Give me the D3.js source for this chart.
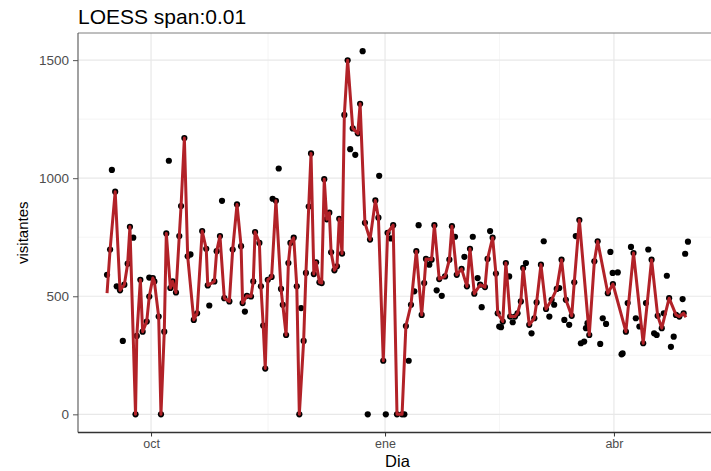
<!DOCTYPE html>
<html>
<head>
<meta charset="utf-8">
<script src="https://cdn.jsdelivr.net/npm/d3@7"></script>
<style>
  html, body { margin: 0; padding: 0; background: #fff; }
  svg { display: block; font-family: "Liberation Sans", Arial, sans-serif; }
</style>
</head>
<body>
<div id="grafico"></div>
<script>
// Día 0 = 13 sep 2018; los días se cuentan desde ahí
const inicio = Date.UTC(2018, 8, 13);

// Curva LOESS (span 0.01), vértices
const diaLoess = [0.7, 1.9, 3.9, 5.8, 7.5, 8.8, 9.7, 11.9, 12.4, 13.8, 14.7, 16.3, 17.3, 18.7, 19.3, 21.0, 21.9, 23.2, 24.0, 25.6,
  26.5, 27.8, 29.1, 29.8, 31.1, 32.4, 34.8, 36.1, 38.1, 39.7, 40.3, 42.9, 43.8, 45.1, 46.8, 48.8, 50.1, 51.8, 53.4, 54.0,
  55.7, 57.3, 58.2, 58.9, 60.6, 61.2, 62.1, 62.9, 63.9, 65.4, 67.1, 69.1, 69.8, 71.1, 72.0, 72.8, 74.1, 75.3, 76.3, 78.0,
  78.9, 80.0, 80.9, 82.0, 82.9, 84.2, 85.1, 86.1, 87.1, 88.1, 88.8, 90.1, 91.1, 92.0, 93.1, 94.0, 95.3, 97.3, 99.3, 100.2,
  102.1, 104.1, 106.2, 107.4, 109.3, 111.0, 113.2, 114.7, 116.7, 118.2, 120.2, 122.3, 124.4, 125.4, 126.1, 128.3, 129.4, 131.3, 133.6, 135.3,
  136.3, 138.2, 140.1, 142.2, 143.4, 145.1, 147.4, 149.3, 150.3, 152.3, 153.6, 154.3, 156.3, 157.5, 159.2, 161.1, 162.1, 163.4, 164.3, 166.7,
  168.7, 169.6, 171.3, 173.3, 175.5, 177.5, 179.4, 181.1, 183.4, 184.4, 186.4, 190.3, 192.3, 193.6, 197.6, 199.6, 204.7, 207.7, 211.5, 214.8,
  217.2, 218.8, 221.7, 224.4, 225.7, 227.4, 228.3];
const loess = [513, 698, 943, 525, 549, 638, 794, 0, 332, 570, 350, 393, 499, 577, 563, 414, 0, 350, 766, 535,
  563, 516, 755, 882, 1170, 669, 400, 428, 776, 701, 546, 563, 691, 755, 492, 478, 698, 889, 712, 471,
  502, 499, 563, 772, 726, 542, 376, 194, 570, 582, 904, 531, 464, 336, 641, 726, 748, 542, 0, 311,
  599, 880, 1105, 594, 644, 559, 556, 996, 826, 854, 686, 610, 627, 828, 681, 1268, 1499, 1211, 1190, 1315,
  811, 740, 906, 833, 227, 769, 801, 0, 0, 374, 464, 691, 421, 556, 658, 655, 801, 573, 584, 655,
  797, 591, 616, 542, 701, 511, 549, 539, 658, 748, 596, 428, 393, 641, 414, 414, 428, 478, 620, 379,
  407, 474, 634, 446, 485, 531, 655, 485, 417, 559, 823, 336, 648, 733, 513, 552, 350, 683, 301, 655,
  417, 365, 492, 421, 414, 428, 411];

// Visitantes por día (puntos)
const diaPuntos = [1.9, 3.9, 5.8, 7.5, 8.8, 9.7, 11.9, 12.4, 13.8, 14.7, 16.3, 17.3, 18.7, 19.3, 21.0, 21.9, 23.2, 24.0, 25.6,
  26.5, 27.8, 29.1, 29.8, 31.1, 32.4, 34.8, 36.1, 38.1, 39.7, 40.3, 42.9, 43.8, 45.1, 46.8, 48.8, 50.1, 51.8, 53.4, 54.0,
  55.7, 57.3, 58.2, 58.9, 60.6, 61.2, 62.1, 62.9, 63.9, 65.4, 67.1, 69.1, 69.8, 71.1, 72.0, 72.8, 74.1, 75.3, 76.3, 78.0,
  78.9, 80.0, 80.9, 82.0, 82.9, 84.2, 85.1, 86.1, 87.1, 88.1, 88.8, 90.1, 91.1, 92.0, 93.1, 94.0, 95.3, 97.3, 99.3, 100.2,
  102.1, 104.1, 106.2, 107.4, 109.3, 111.0, 113.2, 114.7, 116.7, 118.2, 120.2, 122.3, 124.4, 125.4, 126.1, 128.3, 129.4, 131.3, 133.6, 135.3,
  136.3, 138.2, 140.1, 142.2, 143.4, 145.1, 147.4, 149.3, 150.3, 152.3, 153.6, 154.3, 156.3, 157.5, 159.2, 161.1, 162.1, 163.4, 164.3, 166.7,
  168.7, 169.6, 171.3, 173.3, 175.5, 177.5, 179.4, 181.1, 183.4, 184.4, 186.4, 190.3, 192.3, 193.6, 197.6, 199.6, 204.7, 207.7, 211.5, 214.8,
  217.2, 218.8, 221.7, 224.4, 225.7, 227.4,
  0.7, 2.6, 4.5, 6.9, 11.0, 17.3, 25.0, 33.5, 40.9, 45.9, 54.9, 65.8, 68.2, 77.0, 96.3, 98.3, 101.2, 103.2, 107.7, 110.3,
  112.3, 117.6, 119.3, 121.5, 123.2, 127.4, 130.3, 132.3, 137.5, 141.2, 144.5, 146.4, 148.0, 151.3, 154.9, 155.6, 158.8, 160.2, 165.4, 167.6,
  172.4, 174.6, 176.5, 178.5, 180.5, 182.4, 185.0, 187.0, 188.3, 189.0, 189.6, 194.6, 195.6, 196.9, 198.6, 199.5, 201.5, 203.0, 203.4, 205.4,
  206.7, 208.6, 210.0, 212.6, 213.5, 215.8, 216.8, 219.6, 220.8, 222.4, 223.5, 227.0, 228.0, 229.1];
const visitantes = [698, 943, 525, 549, 638, 794, 0, 332, 570, 350, 393, 499, 577, 563, 414, 0, 350, 766, 535,
  563, 516, 755, 882, 1170, 669, 400, 428, 776, 701, 546, 563, 691, 755, 492, 478, 698, 889, 712, 471,
  502, 499, 563, 772, 726, 542, 376, 194, 570, 582, 904, 531, 464, 336, 641, 726, 748, 542, 0, 311,
  599, 880, 1105, 594, 644, 559, 556, 996, 826, 854, 686, 610, 627, 828, 681, 1268, 1499, 1211, 1190, 1315,
  811, 740, 906, 833, 227, 769, 801, 0, 0, 374, 464, 691, 421, 556, 658, 655, 801, 573, 584, 655,
  797, 591, 616, 542, 701, 511, 549, 539, 658, 748, 596, 428, 393, 641, 414, 414, 428, 478, 620, 379,
  407, 474, 634, 446, 485, 531, 655, 485, 417, 559, 823, 336, 648, 733, 513, 552, 350, 683, 301, 655,
  417, 365, 492, 421, 414, 428,
  591, 1035, 542, 311, 748, 579, 1074, 677, 461, 904, 435, 913, 1041, 450, 1123, 1099, 1538, 0, 1010, 0,
  745, 0, 227, 521, 801, 634, 525, 502, 752, 667, 752, 577, 454, 776, 372, 369, 584, 390, 641, 343,
  733, 414, 464, 535, 400, 379, 755, 301, 308, 365, 386, 298, 407, 383, 688, 599, 601, 254, 258, 471,
  709, 407, 372, 471, 698, 343, 336, 428, 587, 286, 329, 488, 680, 731];

// Ejes
const marcasX = ["2018-10-01", "2019-01-01", "2019-04-01"];
const etiquetasX = ["oct", "ene", "abr"];
const menoresX = ["2018-11-16", "2019-02-15"];
const marcasY = [0, 500, 1000, 1500];
const menoresY = [250, 750, 1250];

const titulo = "LOESS span:0.01";
const tituloX = "Dia";
const tituloY = "visitantes";

const aFecha = d => new Date(inicio + d * 864e5);

const width = 711, height = 471;
const panel = { left: 78, right: 717, top: 33, bottom: 432.5 };

const svg = d3.select("#grafico").append("svg")
  .attr("width", width)
  .attr("height", height);

svg.append("rect").attr("width", width).attr("height", height).attr("fill", "#fff");

// Dominios con 5% de expansión, como ggplot
const extX = d3.extent(diaPuntos.concat(diaLoess));
const padX = (extX[1] - extX[0]) * 0.05;
const x = d3.scaleUtc()
  .domain([aFecha(extX[0] - padX), aFecha(extX[1] + padX)])
  .range([panel.left, panel.right]);

const extY = d3.extent(visitantes);
const padY = (extY[1] - extY[0]) * 0.05;
const y = d3.scaleLinear()
  .domain([extY[0] - padY, extY[1] + padY])
  .range([panel.bottom, panel.top]);

// Rejilla
const rejilla = svg.append("g");
rejilla.selectAll(".menor-y").data(menoresY).enter().append("line")
  .attr("x1", panel.left).attr("x2", panel.right)
  .attr("y1", d => y(d)).attr("y2", d => y(d))
  .style("stroke", "#f0f0f0").style("stroke-width", 0.7);
rejilla.selectAll(".menor-x").data(menoresX).enter().append("line")
  .attr("x1", d => x(new Date(d))).attr("x2", d => x(new Date(d)))
  .attr("y1", panel.top).attr("y2", panel.bottom)
  .style("stroke", "#f0f0f0").style("stroke-width", 0.7);
rejilla.selectAll(".mayor-y").data(marcasY).enter().append("line")
  .attr("x1", panel.left).attr("x2", panel.right)
  .attr("y1", d => y(d)).attr("y2", d => y(d))
  .style("stroke", "#e8e8e8").style("stroke-width", 1.2);
rejilla.selectAll(".mayor-x").data(marcasX).enter().append("line")
  .attr("x1", d => x(new Date(d))).attr("x2", d => x(new Date(d)))
  .attr("y1", panel.top).attr("y2", panel.bottom)
  .style("stroke", "#e8e8e8").style("stroke-width", 1.2);

// Puntos
const puntos = diaPuntos.map((d, i) => ({ dia: aFecha(d), v: visitantes[i] }));
svg.append("g").selectAll("circle").data(puntos).enter().append("circle")
  .attr("cx", d => x(d.dia))
  .attr("cy", d => y(d.v))
  .attr("r", 3.1)
  .style("fill", "#000");

// Curva suavizada
const curva = diaLoess.map((d, i) => ({ dia: aFecha(d), v: loess[i] }));
svg.append("path").datum(curva)
  .attr("d", d3.line().x(d => x(d.dia)).y(d => y(d.v)))
  .style("fill", "none")
  .style("stroke", "#b22228")
  .style("stroke-width", 3)
  .style("stroke-linejoin", "round");

// Borde del panel
svg.append("line").attr("x1", panel.left).attr("x2", panel.right).attr("y1", panel.top).attr("y2", panel.top)
  .style("stroke", "#7f7f7f").style("stroke-width", 1);
svg.append("line").attr("x1", panel.left).attr("x2", panel.left).attr("y1", panel.top).attr("y2", panel.bottom)
  .style("stroke", "#555").style("stroke-width", 1.1);

// Eje X
const ejeX = svg.append("g")
  .attr("transform", `translate(0,${panel.bottom})`)
  .call(d3.axisBottom(x).tickValues(marcasX.map(d => new Date(d)))
    .tickFormat((d, i) => etiquetasX[i]).tickSize(4).tickPadding(3));
ejeX.select(".domain").attr("d", `M${panel.left},0H${panel.right}`).style("stroke", "#333").style("stroke-width", 1.4);
ejeX.selectAll(".tick line").style("stroke", "#333");
ejeX.selectAll(".tick text").style("fill", "#4d4d4d").style("font-size", "12.5px")
  .style("font-family", "'Liberation Sans', Arial, sans-serif");

// Eje Y
const ejeY = svg.append("g")
  .attr("transform", `translate(${panel.left},0)`)
  .call(d3.axisLeft(y).tickValues(marcasY).tickFormat(d3.format("d")).tickSize(5).tickPadding(4));
ejeY.select(".domain").remove();
ejeY.selectAll(".tick line").style("stroke", "#555");
ejeY.selectAll(".tick text").style("fill", "#4d4d4d").style("font-size", "13.5px")
  .style("font-family", "'Liberation Sans', Arial, sans-serif");

// Títulos
svg.append("text")
  .attr("x", panel.left).attr("y", 24)
  .style("font-size", "21px").style("fill", "#000")
  .text(titulo);

svg.append("text")
  .attr("x", (panel.left + panel.right) / 2).attr("y", 467)
  .style("text-anchor", "middle").style("font-size", "16.5px").style("fill", "#000")
  .text(tituloX);

svg.append("text")
  .attr("transform", `translate(28,${(panel.top + panel.bottom) / 2}) rotate(-90)`)
  .style("text-anchor", "middle").style("font-size", "15px").style("fill", "#000")
  .text(tituloY);
</script>
</body>
</html>
